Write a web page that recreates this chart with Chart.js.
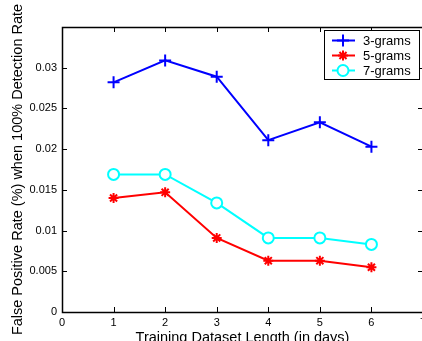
<!DOCTYPE html>
<html lang="en">
  <head>
    <meta charset="UTF-8">
    <script src="https://cdn.jsdelivr.net/npm/chart.js"></script>
    <style>
      html, body { margin: 0; padding: 0; background: #fff; overflow: hidden; }
      #wrap { width: 422px; height: 341px; overflow: hidden; }
    </style>
  </head>
  <body>
    <div id="wrap"><canvas id="fprChart" width="423" height="341"></canvas></div>

    <script>
      const days = [1, 2, 3, 4, 5, 6];
      const grams3 = [0.0282, 0.0309, 0.0289, 0.0211, 0.0233, 0.0203];
      const grams5 = [0.0140, 0.0147, 0.0091, 0.0063, 0.0063, 0.0055];
      const grams7 = [0.0169, 0.0169, 0.0134, 0.0091, 0.0091, 0.0083];
      const xTicks = [0, 1, 2, 3, 4, 5, 6, 7];
      const yTicks = [0, 0.005, 0.01, 0.015, 0.02, 0.025, 0.03];

      const font = 'Liberation Sans, Arial, sans-serif';

      function pts(vals) {
        return vals.map((v, i) => ({ x: days[i], y: v }));
      }

      // box, inward ticks and legend
      const frame = {
        id: 'frame',
        afterDraw(chart) {
          const c = chart.ctx, a = chart.chartArea;
          const xs = chart.scales.x, ys = chart.scales.y;
          c.save();
          c.strokeStyle = '#000';
          c.lineWidth = 1;
          c.beginPath();
          xTicks.forEach(t => {
            const px = Math.round(xs.getPixelForValue(t)) + 0.5;
            c.moveTo(px, a.bottom); c.lineTo(px, a.bottom - 5);
            c.moveTo(px, a.top); c.lineTo(px, a.top + 5);
          });
          yTicks.forEach(t => {
            const py = Math.round(ys.getPixelForValue(t)) + 0.5;
            c.moveTo(a.left, py); c.lineTo(a.left + 5, py);
            c.moveTo(a.right, py); c.lineTo(a.right - 5, py);
          });
          c.stroke();
          c.lineWidth = 1.5;
          c.strokeRect(Math.round(a.left) + 0.5, Math.round(a.top) + 0.5,
                       Math.round(a.right - a.left), Math.round(a.bottom - a.top));

          // legend
          const lx = 324.5, ly = 30.5, lw = 95, lh = 49;
          c.fillStyle = '#fff';
          c.fillRect(lx, ly, lw, lh);
          c.lineWidth = 1;
          c.strokeRect(lx, ly, lw, lh);
          chart.data.datasets.forEach((ds, i) => {
            const y = 40.5 + i * 15;
            c.strokeStyle = ds.borderColor;
            c.lineWidth = 2;
            c.beginPath();
            c.moveTo(332, y); c.lineTo(355, y);
            c.stroke();
            c.fillStyle = ds.pointBackgroundColor;
            c.strokeStyle = ds.borderColor;
            c.lineWidth = 2;
            Chart.helpers.drawPoint(c, {
              pointStyle: ds.pointStyle, radius: ds.pointRadius,
              borderWidth: 2, rotation: 0
            }, 343, y);
            c.fillStyle = '#000';
            c.font = '13px ' + font;
            c.textBaseline = 'middle';
            c.textAlign = 'left';
            c.fillText(ds.label, 363, y + 0.5);
          });
          c.restore();
        }
      };

      new Chart(document.getElementById('fprChart').getContext('2d'), {
        type: 'line',
        data: {
          datasets: [
            {
              label: '3-grams', data: pts(grams3),
              borderColor: '#0000ff', backgroundColor: '#0000ff',
              pointStyle: 'cross', pointRadius: 6, pointBorderWidth: 2,
              pointBackgroundColor: '#0000ff', borderWidth: 2
            },
            {
              label: '5-grams', data: pts(grams5),
              borderColor: '#ff0000', backgroundColor: '#ff0000',
              pointStyle: 'star', pointRadius: 5, pointBorderWidth: 2,
              pointBackgroundColor: '#ff0000', borderWidth: 2
            },
            {
              label: '7-grams', data: pts(grams7),
              borderColor: '#00ffff', backgroundColor: '#ffffff',
              pointStyle: 'circle', pointRadius: 5.5, pointBorderWidth: 2,
              pointBackgroundColor: '#ffffff', borderWidth: 2
            }
          ]
        },
        options: {
          responsive: false,
          animation: false,
          layout: { autoPadding: false, padding: { top: 27, right: 0, left: 0, bottom: 0 } },
          plugins: {
            legend: { display: false },
            tooltip: { enabled: false }
          },
          scales: {
            x: {
              type: 'linear', min: 0, max: 7,
              grid: { display: false, drawTicks: false },
              border: { display: false },
              afterBuildTicks: s => { s.ticks = xTicks.map(v => ({ value: v })); },
              afterFit: s => { s.height = 29; s.paddingRight = 0; s.paddingLeft = 0; },
              ticks: {
                color: '#000', padding: 4, maxRotation: 0, autoSkip: false,
                font: { family: font, size: 11 }
              },
              title: {
                display: true, text: 'Training Dataset Length (in days)',
                color: '#000', padding: { top: 0, bottom: -6 },
                font: { family: font, size: 14.5 }
              }
            },
            y: {
              min: 0, max: 0.035,
              grid: { display: false, drawTicks: false },
              border: { display: false },
              afterBuildTicks: s => { s.ticks = yTicks.map(v => ({ value: v })); },
              afterFit: s => { s.width = 62; s.paddingTop = 0; s.paddingBottom = 0; },
              ticks: {
                color: '#000', padding: 5, autoSkip: false,
                font: { family: font, size: 11 },
                callback: v => String(+v.toFixed(3))
              },
              title: {
                display: true, text: 'False Positive Rate (%) when 100% Detection Rate',
                color: '#000', padding: { top: 9, bottom: 0 },
                font: { family: font, size: 14.5 }
              }
            }
          }
        },
        plugins: [frame]
      });
    </script>
  </body>
</html>
